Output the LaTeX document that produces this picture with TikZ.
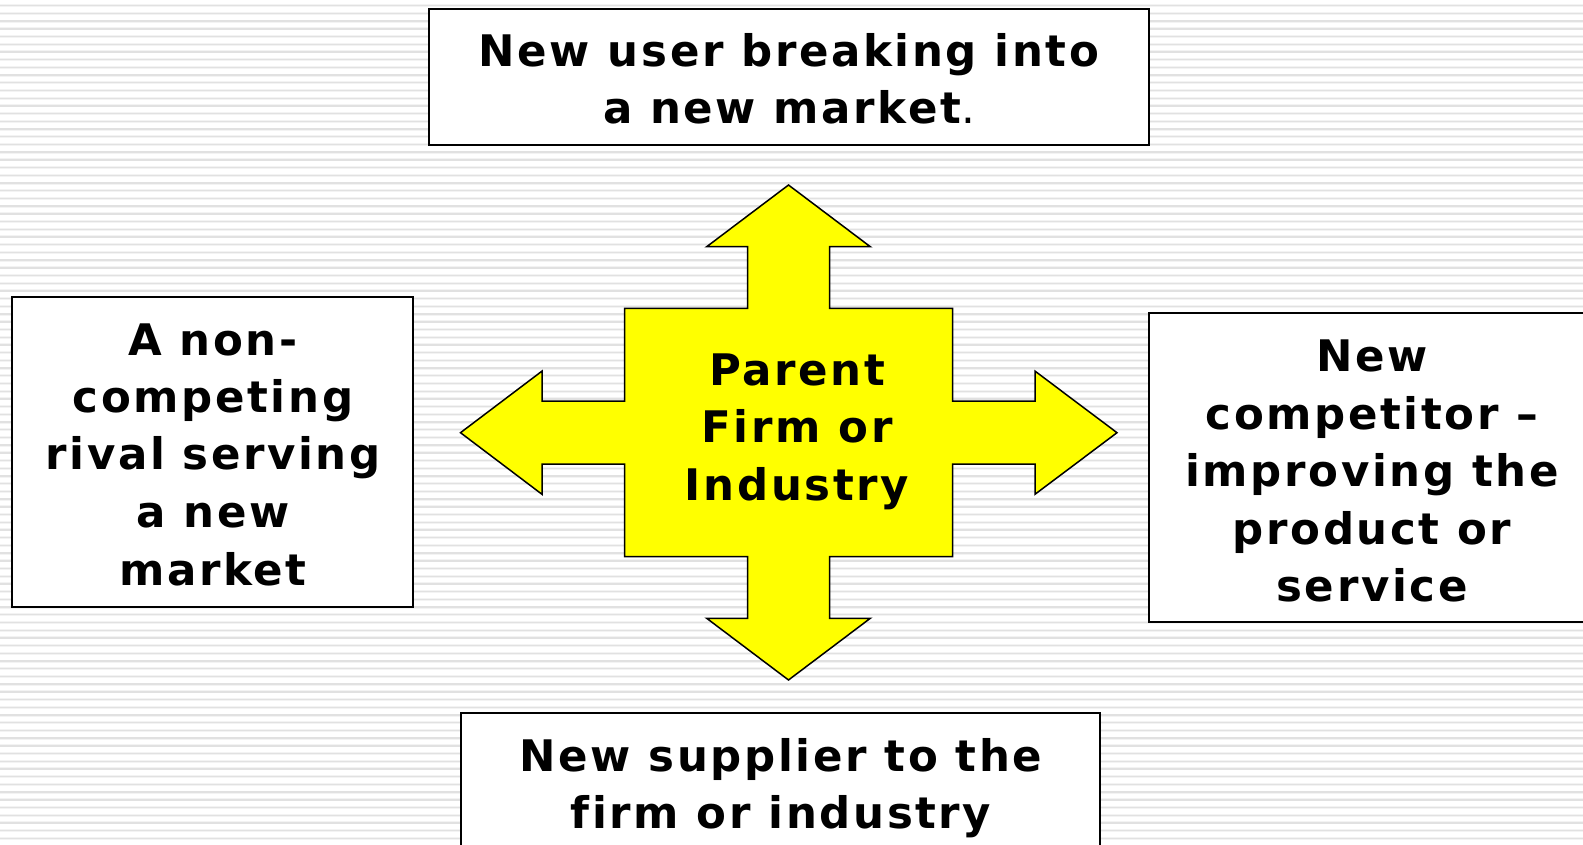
\documentclass[tikz,border=0pt]{standalone}
\usepackage{fontspec}
\setmainfont{DejaVu Sans}[LetterSpace=6, Ligatures={NoCommon}]
\definecolor{stripeA}{HTML}{F3F3F3}
\definecolor{stripeB}{HTML}{E1E1E1}
\definecolor{crossyellow}{HTML}{FFFF00}
\newcommand{\lines}[1]{\begin{tabular}[t]{@{}c@{}}#1\end{tabular}}
\begin{document}
\begin{tikzpicture}[x=1pt,y=-1pt,
  box/.style={draw=black, line width=1.7pt, fill=white, inner sep=0pt},
  txt/.style={anchor=base, inner sep=0pt, font=\bfseries\fontsize{43.5}{57.5}\selectfont},
  crossshape/.style={draw=black, line width=1.5pt, fill=crossyellow, line join=miter}]
\useasboundingbox (0,0) rectangle (1583,845);
\clip (0,0) rectangle (1583,845);
\fill[white] (0,0) rectangle (1583,845);
\foreach \i in {0,...,109} {
  \draw[stripeA, line width=3pt] (0,{5.7+7.71*\i}) -- (1583,{5.7+7.71*\i});
  \draw[stripeB, line width=1.4pt] (0,{5.7+7.71*\i}) -- (1583,{5.7+7.71*\i});
}
% boxes
\node[box, minimum width=720pt, minimum height=136pt] (topbox) at (789,77) {};
\node[box, minimum width=401pt, minimum height=310pt] (leftbox) at (212.5,452) {};
\node[box, minimum width=446pt, minimum height=309pt] (rightbox) at (1372,467.5) {};
\node[box, minimum width=639pt, minimum height=190pt] (bottombox) at (780.5,808) {};
% cross
\draw[crossshape]
  (788.5,185) -- (870.3,246.7) -- (829.5,246.7) -- (829.5,308.3) -- (952.5,308.3)
  -- (952.5,401.2) -- (1035,401.2) -- (1035,371.1) -- (1117,432.7) -- (1035,494.3)
  -- (1035,464.2) -- (952.5,464.2) -- (952.5,556.7) -- (829.5,556.7) -- (829.5,618.3)
  -- (870.3,618.3) -- (788.5,680) -- (706.7,618.3) -- (747.5,618.3) -- (747.5,556.7)
  -- (624.5,556.7) -- (624.5,464.2) -- (542,464.2) -- (542,494.3) -- (460.5,432.7)
  -- (542,371.1) -- (542,401.2) -- (624.5,401.2) -- (624.5,308.3) -- (747.5,308.3)
  -- (747.5,246.7) -- (706.7,246.7) -- cycle;
% texts
\node[txt] (toptext) at (789,66.5) {\lines{New user breaking into\\a new market{\mdseries .}}};
\node[txt] (lefttext) at (213,355) {\lines{A non-\\competing\\rival serving\\a new\\market}};
\node[txt] (righttext) at (1372,371.7) {\lines{New\\competitor –\\improving the\\product or\\service}};
\node[txt] (centertext) at (797,385) {\lines{Parent\\Firm or\\Industry}};
\node[txt] (bottomtext) at (781,771) {\lines{New supplier to the\\firm or industry}};
\end{tikzpicture}
\end{document}
